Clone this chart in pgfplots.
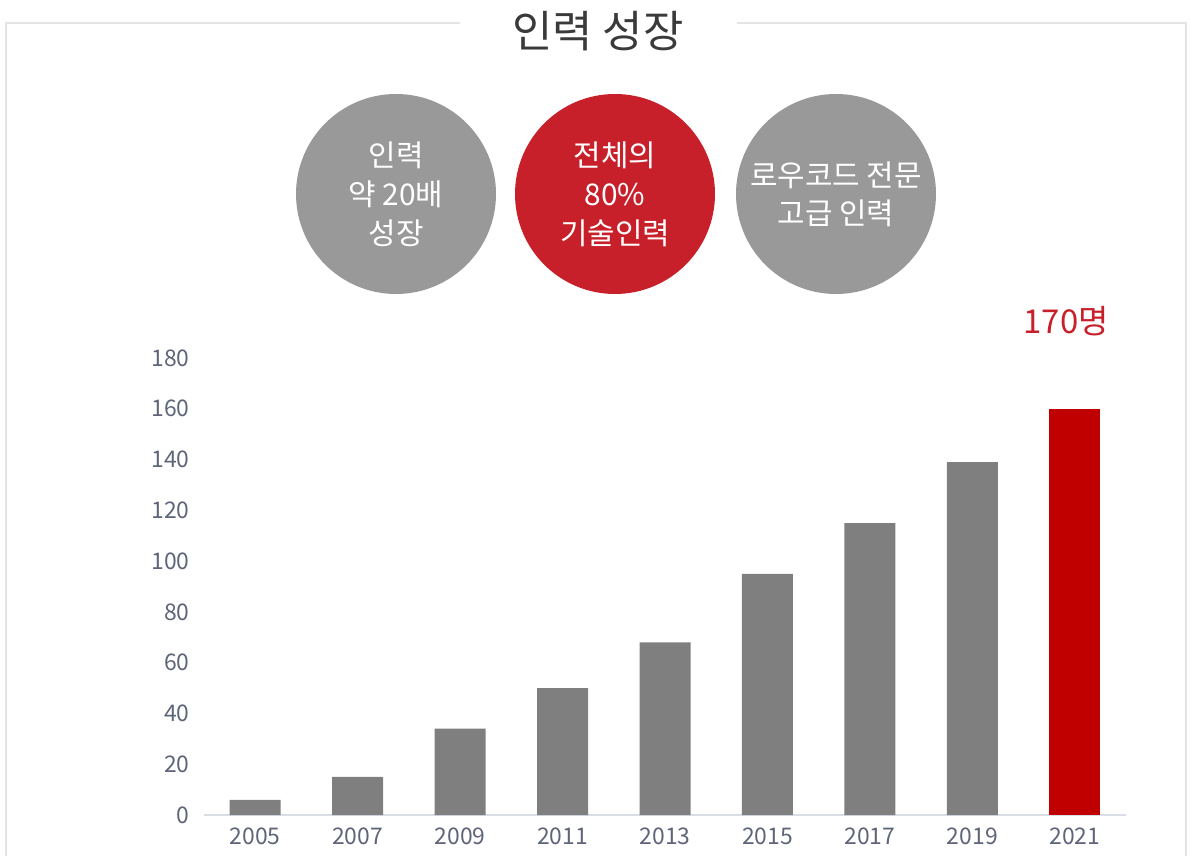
\documentclass[border=0pt]{standalone}
\usepackage{pgfplots}
\pgfplotsset{compat=1.18}
\usepackage{fontspec}
\setmainfont{Noto Sans CJK KR}
\definecolor{framegray}{HTML}{E4E4E4}
\definecolor{titlegray}{HTML}{3A3A3A}
\definecolor{circgray}{HTML}{999999}
\definecolor{circred}{HTML}{C8202A}
\definecolor{bargray}{HTML}{7F7F7F}
\definecolor{barred}{HTML}{C00000}
\definecolor{ticktext}{HTML}{5E6578}
\definecolor{axisline}{HTML}{D9DDE5}
\begin{document}
\begin{tikzpicture}
\path[use as bounding box] (0,0) rectangle (1197bp,856bp);
\draw[framegray, line width=1.5bp] (6bp,-5bp) -- (6bp,833bp) -- (1186bp,833bp) -- (1186bp,-5bp);
\fill[white] (460bp,815bp) rectangle (737bp,850bp);
\node[font=\fontsize{44}{48}\selectfont, text=titlegray] at (598bp,825bp) {인력 성장};
\fill[circgray] (396bp,662bp) circle (100bp);
\fill[circred] (615bp,662bp) circle (100bp);
\fill[circgray] (836bp,662bp) circle (100bp);
\node[align=center, text=white, font=\fontsize{30}{39}\selectfont] at (396bp,662bp) {인력\\약 20배\\성장};
\node[align=center, text=white, font=\fontsize{30}{39}\selectfont] at (615bp,662bp) {전체의\\80\%\\기술인력};
\node[align=center, text=white, font=\fontsize{30}{38}\selectfont] at (836bp,662bp) {로우코드 전문\\고급 인력};
\begin{axis}[
  at={(204bp,41bp)}, anchor=south west,
  scale only axis, width=922bp, height=457bp,
  xmin=-0.5, xmax=8.5, ymin=0, ymax=180,
  axis x line=bottom, axis y line=left,
  x axis line style={-, draw=axisline, line width=1.5bp},
  y axis line style={draw=none},
  major tick length=0pt,
  ytick={0,20,...,180},
  xtick={0,...,8},
  xticklabels={2005,2007,2009,2011,2013,2015,2017,2019,2021},
  /pgf/number format/assume math mode=true,
  tick label style={font=\fontsize{23}{27}\selectfont, text=ticktext},
  yticklabel style={xshift=-11bp},
  xticklabel style={yshift=-9bp},
  ybar, bar width=51bp, bar shift=0pt,
  clip=false,
]
\addplot[fill=bargray, draw=none] coordinates {(0,6) (1,15) (2,34) (3,50) (4,68) (5,95) (6,115) (7,139)};
\addplot[fill=barred, draw=none] coordinates {(8,160)};
\end{axis}
\node[text=circred, font=\fontsize{33}{36}\selectfont] at (1066bp,535bp) {170명};
\end{tikzpicture}
\end{document}
